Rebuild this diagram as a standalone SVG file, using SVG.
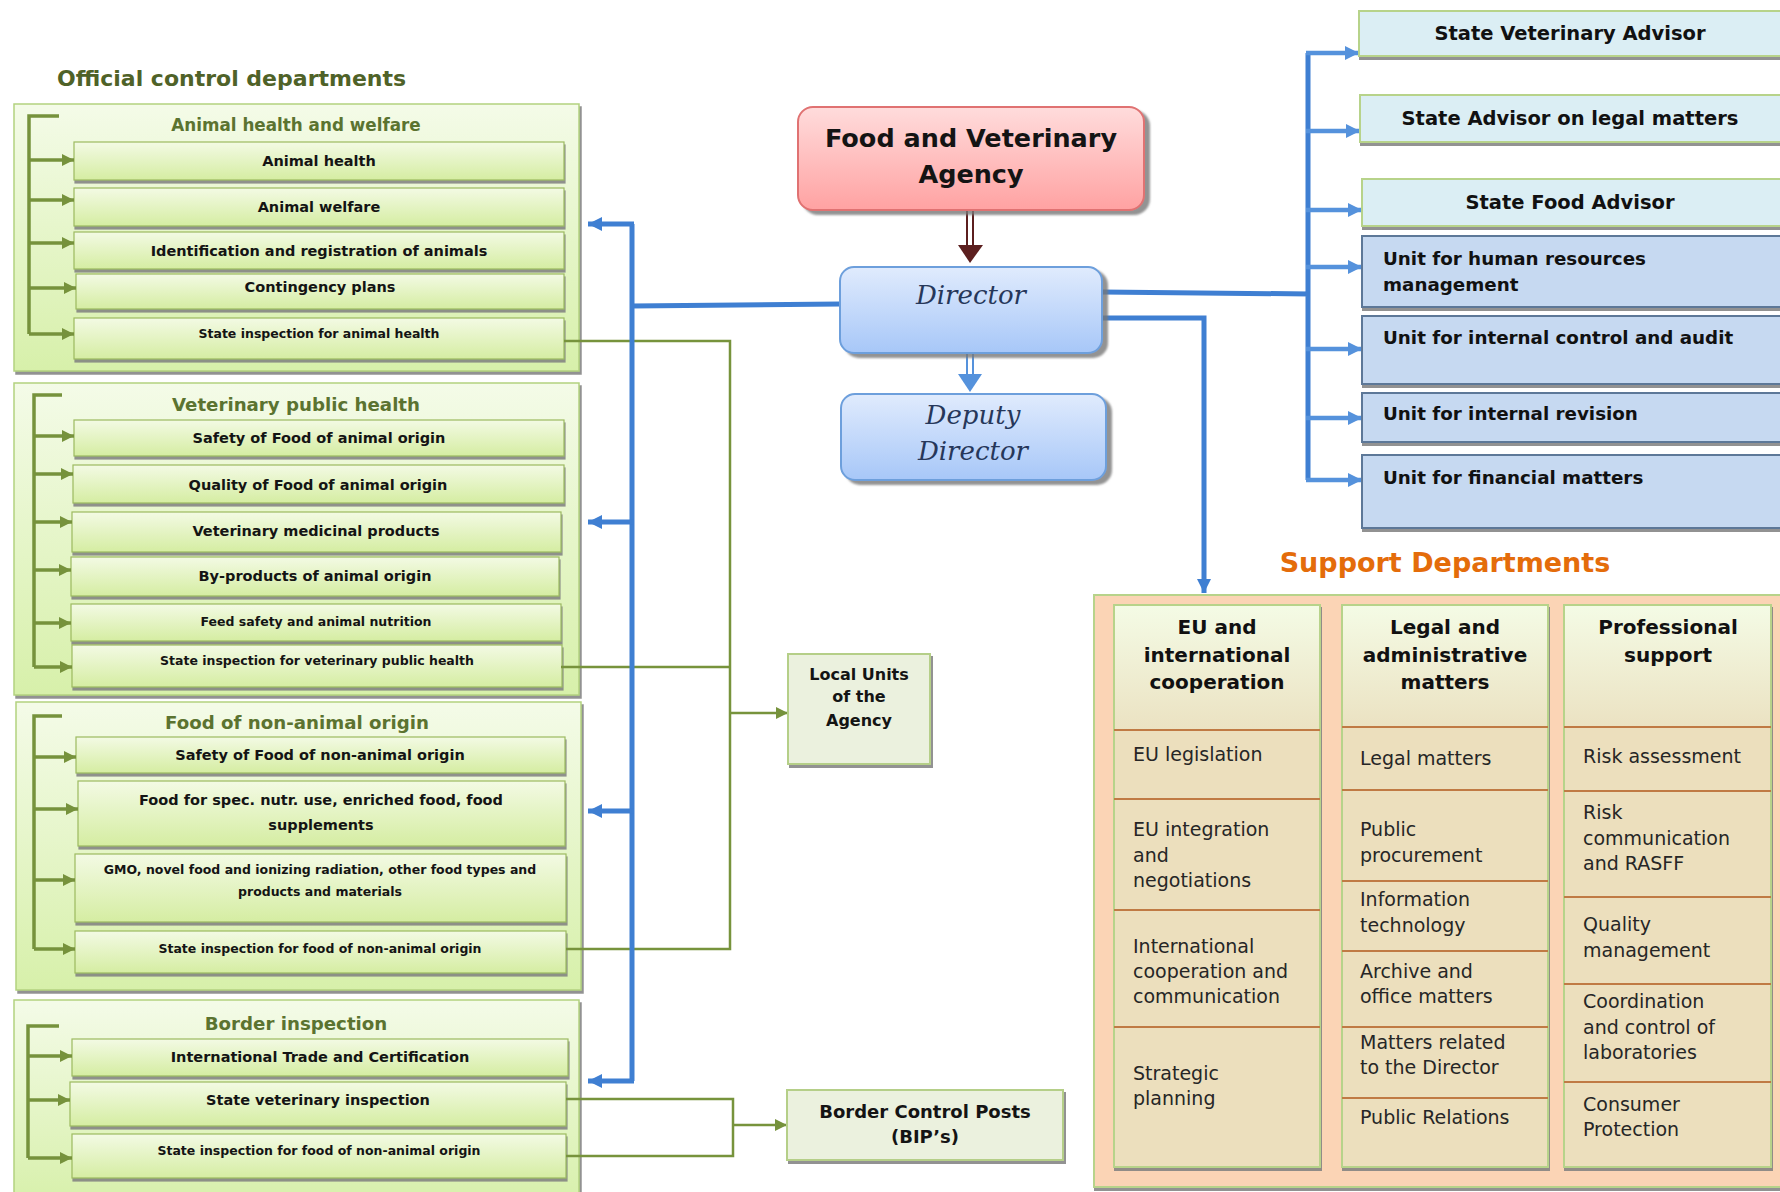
<svg xmlns="http://www.w3.org/2000/svg" width="1780" height="1192" viewBox="0 0 1780 1192">
<defs>
<linearGradient id="gOuter" x1="0" y1="0" x2="0" y2="1"><stop offset="0" stop-color="#f4fbe8"/><stop offset="1" stop-color="#d7f0aa"/></linearGradient>
<linearGradient id="gInner" x1="0" y1="0" x2="0" y2="1"><stop offset="0" stop-color="#f3fae4"/><stop offset="1" stop-color="#d5eda2"/></linearGradient>
<linearGradient id="gRed" x1="0" y1="0" x2="0" y2="1"><stop offset="0" stop-color="#ffdcdc"/><stop offset="1" stop-color="#ffa2a2"/></linearGradient>
<linearGradient id="gBlue" x1="0" y1="0" x2="0" y2="1"><stop offset="0" stop-color="#e0ebfd"/><stop offset="1" stop-color="#a7c7f8"/></linearGradient>
<linearGradient id="gHead" x1="0" y1="0" x2="0" y2="1"><stop offset="0" stop-color="#f4fbe5"/><stop offset="1" stop-color="#ebe2c2"/></linearGradient>
<filter id="sh" x="-5%" y="-5%" width="110%" height="115%"><feDropShadow dx="2" dy="3" stdDeviation="0.7" flood-color="#7f7f7f" flood-opacity="0.85"/></filter>
<filter id="sh2" x="-5%" y="-10%" width="110%" height="130%"><feDropShadow dx="1" dy="3" stdDeviation="0.5" flood-color="#7f7f7f" flood-opacity="0.85"/></filter>
<filter id="sh3" x="-5%" y="-10%" width="115%" height="125%"><feDropShadow dx="5" dy="4" stdDeviation="1.2" flood-color="#777" flood-opacity="0.8"/></filter>
<marker id="ga" markerUnits="userSpaceOnUse" markerWidth="12" markerHeight="12" refX="12" refY="6" orient="auto"><path d="M0,0 L12,6 L0,12 z" fill="#76923c"/></marker>
<marker id="ba" markerUnits="userSpaceOnUse" markerWidth="14" markerHeight="14" refX="14" refY="7" orient="auto"><path d="M0,0 L14,7 L0,14 z" fill="#3f7fd2"/></marker>
<marker id="ba2" markerUnits="userSpaceOnUse" markerWidth="14" markerHeight="14" refX="14" refY="7" orient="auto"><path d="M0,0 L14,7 L0,14 z" fill="#5592dc"/></marker>
<style>
.ob{fill:url(#gOuter);stroke:#b3d27f;stroke-width:1.5;filter:url(#sh)}
.ib{fill:url(#gInner);stroke:#9cba5f;stroke-width:1.2;filter:url(#sh2)}
.hd{font-family:"DejaVu Sans",sans-serif;font-weight:bold;font-size:18.2px;fill:#5b7330;text-anchor:middle}
.ttl{font-family:"DejaVu Sans",sans-serif;font-weight:bold;font-size:22px;fill:#4f6228}
.t1{font-family:"DejaVu Sans",sans-serif;font-weight:bold;font-size:14.5px;fill:#141414;text-anchor:middle}
.t2{font-family:"DejaVu Sans",sans-serif;font-weight:bold;font-size:12.5px;fill:#141414;text-anchor:middle}
.br{fill:none;stroke:#76923c;stroke-width:3.5}
.ga{fill:none;stroke:#76923c;stroke-width:3.5;marker-end:url(#ga)}
.gc{fill:none;stroke:#77933c;stroke-width:2.5}
.gca{fill:none;stroke:#77933c;stroke-width:2.5;marker-end:url(#ga)}
.bl{fill:none;stroke:#3f7fd2;stroke-width:5}
.bla{fill:none;stroke:#3f7fd2;stroke-width:5;marker-end:url(#ba)}
.bra{fill:none;stroke:#5592dc;stroke-width:4.5;marker-end:url(#ba2)}
.lb{fill:#ebf1de;stroke:#b5cf88;stroke-width:2;filter:url(#sh)}
.lt{font-family:"DejaVu Sans",sans-serif;font-weight:bold;fill:#141414;text-anchor:middle}
.adv{fill:#dbeef4;stroke:#b7d38a;stroke-width:2;filter:url(#sh2)}
.unit{fill:#c6d9f1;stroke:#5d7898;stroke-width:2;filter:url(#sh2)}
.at{font-family:"DejaVu Sans",sans-serif;font-weight:bold;font-size:19.5px;fill:#111;text-anchor:middle}
.ut{font-family:"DejaVu Sans",sans-serif;font-weight:bold;font-size:18.3px;fill:#111}
.col{fill:#ecdfbd;stroke:#b7d38a;stroke-width:2;filter:url(#sh2)}
.chd{fill:url(#gHead)}
.dv{stroke:#c07a44;stroke-width:2}
.ch{font-family:"DejaVu Sans",sans-serif;font-weight:bold;font-size:20px;fill:#111;text-anchor:middle}
.ct{font-family:"DejaVu Sans",sans-serif;font-size:19px;fill:#262626}
.dr{font-family:"DejaVu Serif",serif;font-style:italic;font-size:26px;fill:#26375a;text-anchor:middle}
</style>
</defs>
<rect width="1780" height="1192" fill="#ffffff"/>

<text class="ttl" x="57" y="86">Official control departments</text>

<!-- Animal health and welfare -->
<g id="dept-animal-health">
<rect class="ob" x="14" y="104" width="565" height="267"/>
<text class="hd" x="296" y="131" style="font-size:16.8px">Animal health and welfare</text>
<rect class="ib" x="74" y="142" width="490" height="38"/><text class="t1" x="319" y="166">Animal health</text>
<rect class="ib" x="74" y="188" width="490" height="38"/><text class="t1" x="319" y="212">Animal welfare</text>
<rect class="ib" x="74" y="232" width="490" height="37"/><text class="t1" x="319" y="256">Identification and registration of animals</text>
<rect class="ib" x="76" y="274" width="488" height="35"/><text class="t1" x="320" y="292">Contingency plans</text>
<rect class="ib" x="74" y="318" width="490" height="41"/><text class="t2" x="319" y="338">State inspection for animal health</text>
<path class="br" d="M59,116 H29 V334"/>
<path class="ga" d="M29,160 H74"/>
<path class="ga" d="M29,200 H74"/>
<path class="ga" d="M29,243 H74"/>
<path class="ga" d="M29,288 H76"/>
<path class="ga" d="M29,334 H74"/>
</g>

<!-- Veterinary public health -->
<g id="dept-vph">
<rect class="ob" x="14" y="383" width="565" height="312"/>
<text class="hd" x="296" y="411">Veterinary public health</text>
<rect class="ib" x="74" y="420" width="490" height="36"/><text class="t1" x="319" y="443">Safety of Food of animal origin</text>
<rect class="ib" x="73" y="465" width="491" height="38"/><text class="t1" x="318" y="490">Quality of Food of animal origin</text>
<rect class="ib" x="72" y="512" width="489" height="40"/><text class="t1" x="316" y="536">Veterinary medicinal products</text>
<rect class="ib" x="71" y="557" width="488" height="39"/><text class="t1" x="315" y="581">By-products of animal origin</text>
<rect class="ib" x="71" y="604" width="490" height="37"/><text class="t2" x="316" y="626">Feed safety and animal nutrition</text>
<rect class="ib" x="72" y="645" width="490" height="42"/><text class="t2" x="317" y="665">State inspection for veterinary public health</text>
<path class="br" d="M62,395 H34 V667"/>
<path class="ga" d="M34,436 H74"/>
<path class="ga" d="M34,474 H73"/>
<path class="ga" d="M34,522 H72"/>
<path class="ga" d="M34,570 H71"/>
<path class="ga" d="M34,623 H71"/>
<path class="ga" d="M34,667 H72"/>
</g>

<!-- Food of non-animal origin -->
<g id="dept-non-animal">
<rect class="ob" x="16" y="702" width="565" height="288"/>
<text class="hd" x="297" y="729">Food of non-animal origin</text>
<rect class="ib" x="76" y="737" width="489" height="36"/><text class="t1" x="320" y="760">Safety of Food of non-animal origin</text>
<rect class="ib" x="78" y="781" width="487" height="65"/><text class="t1" x="321" y="805">Food for spec. nutr. use, enriched food, food</text><text class="t1" x="321" y="830">supplements</text>
<rect class="ib" x="75" y="854" width="491" height="68"/><text class="t2" x="320" y="874">GMO, novel food and ionizing radiation, other food types and</text><text class="t2" x="320" y="896">products and materials</text>
<rect class="ib" x="75" y="931" width="491" height="42"/><text class="t2" x="320" y="953">State inspection for food of non-animal origin</text>
<path class="br" d="M62,716 H34 V949"/>
<path class="ga" d="M34,757 H76"/>
<path class="ga" d="M34,809 H78"/>
<path class="ga" d="M34,880 H75"/>
<path class="ga" d="M34,949 H75"/>
</g>

<!-- Border inspection -->
<g id="dept-border">
<rect class="ob" x="14" y="1000" width="565" height="205"/>
<text class="hd" x="296" y="1030">Border inspection</text>
<rect class="ib" x="72" y="1039" width="496" height="37"/><text class="t1" x="320" y="1062">International Trade and Certification</text>
<rect class="ib" x="70" y="1082" width="496" height="44"/><text class="t1" x="318" y="1105">State veterinary inspection</text>
<rect class="ib" x="72" y="1134" width="494" height="44"/><text class="t2" x="319" y="1155">State inspection for food of non-animal origin</text>
<path class="br" d="M59,1026 H28 V1158"/>
<path class="ga" d="M28,1056 H72"/>
<path class="ga" d="M28,1100 H70"/>
<path class="ga" d="M28,1158 H72"/>
</g>

<!-- Connectors -->
<g id="connectors">
<path class="gc" d="M564,341 H730 V949 H566 M561,667 H730"/>
<path class="gca" d="M730,713 H788"/>
<path class="gc" d="M566,1099 H733 V1156 H566"/>
<path class="gca" d="M733,1125 H787"/>
<path class="bl" d="M840,304 L632,306 M632,224 V1081"/>
<path class="bla" d="M634,224 H588"/>
<path class="bla" d="M634,522 H588"/>
<path class="bla" d="M634,811 H588"/>
<path class="bla" d="M634,1081 H588"/>
<path class="bl" d="M1102,292 L1310,294 M1308,53 V480"/>
<path class="bra" d="M1306,53 H1359"/>
<path class="bra" d="M1306,131 H1360"/>
<path class="bra" d="M1306,210 H1362"/>
<path class="bra" d="M1306,267 H1362"/>
<path class="bra" d="M1306,349 H1362"/>
<path class="bra" d="M1306,418 H1362"/>
<path class="bra" d="M1306,480 H1362"/>
<path class="bla" d="M1102,318 H1204 V593"/>
<path d="M967,210 V246 M973,210 V246" stroke="#5c1f1f" stroke-width="2" fill="none"/>
<path d="M958,245 L983,245 L970,263 z" fill="#5c1f1f"/>
<path d="M967,353 V375 M973,353 V375" stroke="#5592dc" stroke-width="2" fill="none"/>
<path d="M958,374 L982,374 L970,392 z" fill="#5592dc"/>
</g>

<!-- Central nodes -->
<g id="fva">
<rect x="798" y="107" width="346" height="103" rx="15" fill="url(#gRed)" stroke="#e07272" stroke-width="2" filter="url(#sh3)"/>
<text class="lt" x="971" y="147" font-size="25.5px">Food and Veterinary</text>
<text class="lt" x="971" y="183" font-size="25.5px">Agency</text>
</g>
<g id="director">
<rect x="840" y="267" width="262" height="86" rx="14" fill="url(#gBlue)" stroke="#6d9fdc" stroke-width="2" filter="url(#sh3)"/>
<text class="dr" x="971" y="304">Director</text>
</g>
<g id="deputy-director">
<rect x="841" y="394" width="265" height="86" rx="14" fill="url(#gBlue)" stroke="#6d9fdc" stroke-width="2" filter="url(#sh3)"/>
<text class="dr" x="973" y="424">Deputy</text>
<text class="dr" x="973" y="460">Director</text>
</g>

<g id="local-units">
<rect class="lb" x="788" y="654" width="142" height="110"/>
<text class="lt" x="859" y="680" font-size="16px">Local Units</text>
<text class="lt" x="859" y="702" font-size="16px">of the</text>
<text class="lt" x="859" y="726" font-size="16px">Agency</text>
</g>
<g id="bip">
<rect class="lb" x="787" y="1090" width="276" height="70"/>
<text class="lt" x="925" y="1118" font-size="18px">Border Control Posts</text>
<text class="lt" x="925" y="1143" font-size="18px">(BIP’s)</text>
</g>

<!-- Right side advisors and units -->
<g id="state-veterinary-advisor"><rect class="adv" x="1359" y="11" width="440" height="45"/><text class="at" x="1570" y="40">State Veterinary Advisor</text></g>
<g id="state-advisor-legal"><rect class="adv" x="1360" y="95" width="440" height="47"/><text class="at" x="1570" y="125">State Advisor on legal matters</text></g>
<g id="state-food-advisor"><rect class="adv" x="1362" y="179" width="440" height="47"/><text class="at" x="1570" y="209">State Food Advisor</text></g>
<g id="unit-hr"><rect class="unit" x="1362" y="236" width="440" height="71"/><text class="ut" x="1383" y="265">Unit for human resources</text><text class="ut" x="1383" y="291">management</text></g>
<g id="unit-audit"><rect class="unit" x="1362" y="316" width="440" height="68"/><text class="ut" x="1383" y="344">Unit for internal control and audit</text></g>
<g id="unit-revision"><rect class="unit" x="1362" y="393" width="440" height="49"/><text class="ut" x="1383" y="420">Unit for internal revision</text></g>
<g id="unit-financial"><rect class="unit" x="1362" y="455" width="440" height="73"/><text class="ut" x="1383" y="484">Unit for financial matters</text></g>

<!-- Support departments -->
<text x="1445" y="572" font-family="DejaVu Sans, sans-serif" font-weight="bold" font-size="27px" fill="#e46c0a" text-anchor="middle">Support Departments</text>
<g id="support-departments">
<rect x="1094" y="595" width="720" height="592" fill="#fbd4b5" stroke="#b7d38a" stroke-width="2" filter="url(#sh2)"/>
</g>
<g id="col-eu">
<rect class="col" x="1114" y="605" width="206" height="562"/>
<rect class="chd" x="1115" y="606" width="204" height="124"/>
<path class="dv" d="M1114,730 H1320 M1114,799 H1320 M1114,910 H1320 M1114,1027 H1320"/>
<text class="ch" x="1217" y="634">EU and</text><text class="ch" x="1217" y="662">international</text><text class="ch" x="1217" y="689">cooperation</text>
<text class="ct" x="1133" y="761">EU legislation</text>
<text class="ct" x="1133" y="836">EU integration</text><text class="ct" x="1133" y="862">and</text><text class="ct" x="1133" y="887">negotiations</text>
<text class="ct" x="1133" y="953">International</text><text class="ct" x="1133" y="978">cooperation and</text><text class="ct" x="1133" y="1003">communication</text>
<text class="ct" x="1133" y="1080">Strategic</text><text class="ct" x="1133" y="1105">planning</text>
</g>
<g id="col-legal">
<rect class="col" x="1342" y="605" width="206" height="562"/>
<rect class="chd" x="1343" y="606" width="204" height="121"/>
<path class="dv" d="M1342,727 H1548 M1342,790 H1548 M1342,881 H1548 M1342,951 H1548 M1342,1027 H1548 M1342,1098 H1548"/>
<text class="ch" x="1445" y="634">Legal and</text><text class="ch" x="1445" y="662">administrative</text><text class="ch" x="1445" y="689">matters</text>
<text class="ct" x="1360" y="765">Legal matters</text>
<text class="ct" x="1360" y="836">Public</text><text class="ct" x="1360" y="862">procurement</text>
<text class="ct" x="1360" y="906">Information</text><text class="ct" x="1360" y="932">technology</text>
<text class="ct" x="1360" y="978">Archive and</text><text class="ct" x="1360" y="1003">office matters</text>
<text class="ct" x="1360" y="1049">Matters related</text><text class="ct" x="1360" y="1074">to the Director</text>
<text class="ct" x="1360" y="1124">Public Relations</text>
</g>
<g id="col-professional">
<rect class="col" x="1564" y="605" width="207" height="562"/>
<rect class="chd" x="1565" y="606" width="205" height="121"/>
<path class="dv" d="M1564,727 H1771 M1564,791 H1771 M1564,897 H1771 M1564,984 H1771 M1564,1082 H1771"/>
<text class="ch" x="1668" y="634">Professional</text><text class="ch" x="1668" y="662">support</text>
<text class="ct" x="1583" y="763">Risk assessment</text>
<text class="ct" x="1583" y="819">Risk</text><text class="ct" x="1583" y="845">communication</text><text class="ct" x="1583" y="870">and RASFF</text>
<text class="ct" x="1583" y="931">Quality</text><text class="ct" x="1583" y="957">management</text>
<text class="ct" x="1583" y="1008">Coordination</text><text class="ct" x="1583" y="1034">and control of</text><text class="ct" x="1583" y="1059">laboratories</text>
<text class="ct" x="1583" y="1111">Consumer</text><text class="ct" x="1583" y="1136">Protection</text>
</g>
</svg>
